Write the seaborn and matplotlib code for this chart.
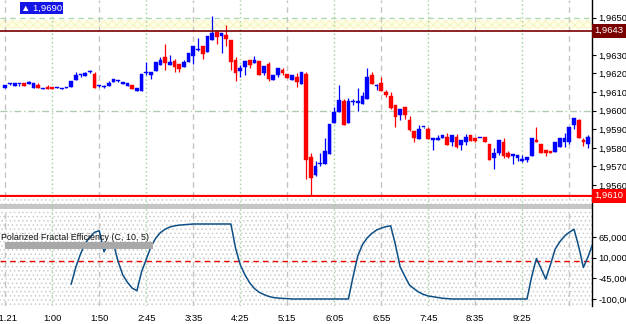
import numpy as np
import pandas as pd
import matplotlib
matplotlib.use("Agg")
import matplotlib.pyplot as plt
from matplotlib.patches import Rectangle
from matplotlib.ticker import FuncFormatter
import seaborn as sns

# ---------------- data ----------------
opens = [1.96123, 1.96143, 1.96134, 1.96143, 1.96148, 1.96146, 1.96123, 1.96138, 1.96118, 1.96127,
         1.96127, 1.96123, 1.96118, 1.96123, 1.96130, 1.96166, 1.96193, 1.96188, 1.96207, 1.96196,
         1.96134, 1.96125, 1.96132, 1.96155, 1.96159, 1.96146, 1.96134, 1.96138, 1.96107, 1.96107,
         1.96204, 1.96193, 1.96214, 1.96245, 1.96288, 1.96246, 1.96266, 1.96250, 1.96234, 1.96261,
         1.96295, 1.96327, 1.96346, 1.96314, 1.96382, 1.96421, 1.96400, 1.96405, 1.96379, 1.96275,
         1.96214, 1.96236, 1.96275, 1.96257, 1.96268, 1.96204, 1.96250, 1.96164, 1.96191, 1.96218,
         1.96196, 1.96164, 1.96182, 1.96146, 1.96196, 1.95752, 1.95654, 1.95711, 1.95714, 1.95768,
         1.95936, 1.95995, 1.96052, 1.95934, 1.96046, 1.96039, 1.96038, 1.96064, 1.96191, 1.96132,
         1.96148, 1.96100, 1.96079, 1.96029, 1.95979, 1.96020, 1.95950, 1.95891, 1.95850, 1.95911,
         1.95902, 1.95841, 1.95843, 1.95855, 1.95859, 1.95829, 1.95859, 1.95816, 1.95829, 1.95870,
         1.95854, 1.95852, 1.95861, 1.95821, 1.95748, 1.95775, 1.95830, 1.95771, 1.95759, 1.95748,
         1.95732, 1.95737, 1.95757, 1.95843, 1.95820, 1.95786, 1.95782, 1.95780, 1.95807, 1.95830,
         1.95829, 1.95923, 1.95950, 1.95843, 1.95820]
highs = [1.96138, 1.96148, 1.96148, 1.96145, 1.96148, 1.96159, 1.96148, 1.96148, 1.96120, 1.96138,
         1.96127, 1.96125, 1.96120, 1.96125, 1.96159, 1.96207, 1.96195, 1.96207, 1.96218, 1.96207,
         1.96139, 1.96138, 1.96159, 1.96168, 1.96163, 1.96148, 1.96148, 1.96138, 1.96121, 1.96196,
         1.96263, 1.96207, 1.96261, 1.96289, 1.96359, 1.96300, 1.96279, 1.96250, 1.96273, 1.96311,
         1.96346, 1.96389, 1.96346, 1.96400, 1.96507, 1.96436, 1.96416, 1.96459, 1.96379, 1.96288,
         1.96245, 1.96268, 1.96275, 1.96293, 1.96268, 1.96239, 1.96263, 1.96191, 1.96227, 1.96227,
         1.96196, 1.96191, 1.96204, 1.96207, 1.96209, 1.95775, 1.95727, 1.95771, 1.95854, 1.95929,
         1.96018, 1.96136, 1.96064, 1.96066, 1.96064, 1.96120, 1.96100, 1.96229, 1.96207, 1.96141,
         1.96180, 1.96111, 1.96100, 1.96029, 1.96009, 1.96020, 1.95971, 1.95891, 1.95923, 1.95912,
         1.95912, 1.95854, 1.95870, 1.95870, 1.95879, 1.95870, 1.95877, 1.95843, 1.95873, 1.95870,
         1.95854, 1.95854, 1.95861, 1.95821, 1.95802, 1.95843, 1.95852, 1.95782, 1.95761, 1.95761,
         1.95761, 1.95752, 1.95855, 1.95912, 1.95820, 1.95786, 1.95782, 1.95830, 1.95855, 1.95879,
         1.95912, 1.95959, 1.95955, 1.95854, 1.95870]
lows = [1.96123, 1.96139, 1.96134, 1.96134, 1.96134, 1.96146, 1.96123, 1.96123, 1.96118, 1.96118,
        1.96118, 1.96123, 1.96118, 1.96123, 1.96127, 1.96166, 1.96182, 1.96188, 1.96202, 1.96123,
        1.96130, 1.96123, 1.96132, 1.96155, 1.96155, 1.96146, 1.96134, 1.96114, 1.96107, 1.96107,
        1.96191, 1.96170, 1.96214, 1.96245, 1.96218, 1.96246, 1.96209, 1.96209, 1.96234, 1.96261,
        1.96252, 1.96323, 1.96277, 1.96314, 1.96379, 1.96357, 1.96311, 1.96346, 1.96221, 1.96161,
        1.96182, 1.96191, 1.96232, 1.96254, 1.96191, 1.96191, 1.96159, 1.96164, 1.96182, 1.96191,
        1.96177, 1.96164, 1.96129, 1.96146, 1.95634, 1.95543, 1.95650, 1.95700, 1.95714, 1.95768,
        1.95936, 1.95995, 1.95925, 1.95934, 1.96032, 1.96000, 1.96038, 1.96064, 1.96145, 1.96113,
        1.96107, 1.96071, 1.96009, 1.95914, 1.95952, 1.95957, 1.95893, 1.95834, 1.95850, 1.95907,
        1.95850, 1.95791, 1.95843, 1.95855, 1.95818, 1.95812, 1.95802, 1.95791, 1.95816, 1.95839,
        1.95834, 1.95852, 1.95830, 1.95737, 1.95686, 1.95761, 1.95743, 1.95746, 1.95716, 1.95732,
        1.95723, 1.95723, 1.95757, 1.95830, 1.95771, 1.95754, 1.95771, 1.95780, 1.95807, 1.95807,
        1.95820, 1.95902, 1.95852, 1.95811, 1.95802]
closes = [1.96138, 1.96145, 1.96148, 1.96145, 1.96134, 1.96148, 1.96148, 1.96123, 1.96120, 1.96118,
          1.96118, 1.96125, 1.96120, 1.96125, 1.96159, 1.96191, 1.96195, 1.96200, 1.96209, 1.96123,
          1.96136, 1.96127, 1.96148, 1.96168, 1.96163, 1.96148, 1.96148, 1.96114, 1.96121, 1.96196,
          1.96207, 1.96207, 1.96261, 1.96275, 1.96257, 1.96261, 1.96236, 1.96223, 1.96261, 1.96311,
          1.96346, 1.96329, 1.96304, 1.96400, 1.96416, 1.96396, 1.96416, 1.96386, 1.96263, 1.96204,
          1.96230, 1.96268, 1.96245, 1.96275, 1.96191, 1.96239, 1.96173, 1.96191, 1.96227, 1.96204,
          1.96177, 1.96191, 1.96154, 1.96207, 1.95736, 1.95639, 1.95705, 1.95712, 1.95784, 1.95929,
          1.95995, 1.96057, 1.95925, 1.96052, 1.96048, 1.96052, 1.96079, 1.96180, 1.96145, 1.96134,
          1.96107, 1.96086, 1.96014, 1.95968, 1.96009, 1.95979, 1.95898, 1.95855, 1.95904, 1.95912,
          1.95850, 1.95854, 1.95855, 1.95870, 1.95818, 1.95870, 1.95807, 1.95843, 1.95861, 1.95839,
          1.95839, 1.95854, 1.95830, 1.95737, 1.95775, 1.95843, 1.95757, 1.95750, 1.95761, 1.95761,
          1.95734, 1.95752, 1.95855, 1.95830, 1.95771, 1.95771, 1.95771, 1.95830, 1.95855, 1.95855,
          1.95912, 1.95959, 1.95852, 1.95830, 1.95861]

pfe_start = 14
pfe_values = [-61, -15, 20, 49, 65, 78, 82, 26, 50, 48,
              0, -36, -56, -71, -78, -27, 6, 40, 62, 77,
              86, 92, 95, 97, 98, 99, 100, 100, 100, 100,
              100, 100, 100, 100, 100, 35, -9, -36, -57, -72,
              -82, -88, -93, -96, -97.5, -98.5, -99, -100, -100, -100,
              -100, -100, -100, -100, -100, -100, -100, -100, -100, -100,
              -40, 15, 45, 63, 75, 84, 89, 93, 95, 45,
              -14, -39, -63, -73, -82, -88, -92, -94, -96, -98,
              -99, -100, -100, -100, -100, -100, -100, -100, -100, -100,
              -100, -100, -100, -100, -100, -100, -100, -100, -40, 8,
              -19, -47, -8, 33, 53, 68, 78, 86, 40, -16,
              13, 48]

time_tick_bars = [0, 10, 20, 30, 40, 50, 60, 70, 80, 90, 100, 110, 120]
time_tick_labels = ["11.21", "1:00", "1:50", "2:45", "3:35", "4:25", "5:15",
                    "6:05", "6:55", "7:45", "8:35", "9:25", ""]
price_ticks = [1.9560, 1.9570, 1.9580, 1.9590, 1.9600, 1.9610, 1.9620, 1.9630, 1.9640, 1.9650]
pfe_ticks = [65, 10, -45, -100]
resistance_level = 1.9643
resistance_label = "1,9643"
support_level = 1.95543
support_label = "1,9610"
high_label = "1,9690"
indicator_title = "Polarized Fractal Efficiency (C, 10, 5)"

# ---------------- style ----------------
sns.set_style("white")
FONT, TS, TT = "Liberation Sans", 6.8, 6.4
plt.rcParams["font.family"] = [FONT, "DejaVu Sans"]
plt.rcParams["hatch.color"] = "#c8c8c8"
plt.rcParams["hatch.linewidth"] = 0.6

W, H = 626, 324
fig = plt.figure(figsize=(W / 100, H / 100), dpi=100, facecolor="white")

def fbox(x0, y0, x1, y1):
    return [x0 / W, 1 - y1 / H, (x1 - x0) / W, (y1 - y0) / H]

ax1 = fig.add_axes(fbox(0, 0, 592, 197))
ax2 = fig.add_axes(fbox(0, 197, 592, 306), sharex=ax1)

df = pd.DataFrame({"bar": np.arange(len(opens)), "open": opens, "high": highs,
                   "low": lows, "close": closes})
df["up"] = df["close"] >= df["open"]
df["color"] = np.where(df["up"], "#0000ff", "#ff0000")
df["body_lo"] = df[["open", "close"]].min(axis=1)
df["body_h"] = (df["close"] - df["open"]).abs().clip(lower=0.00006)

# ---------- main panel ----------
ax1.set_xlim(-1.13, 124.83)
ax1.set_ylim(1.95536, 1.96595)

for i, b in enumerate(time_tick_bars):
    for ax in (ax1, ax2):
        if i % 2 == 0:
            ax.axvline(b, color="#c4c4c4", lw=1.0, ls=(0, (4, 3)), zorder=1)
        else:
            ax.axvline(b, color="#98d498", lw=1.0, ls=(0, (1, 2)), zorder=1)
ax1.axhline(1.9650, color="#b0d8b0", lw=1.0, ls=(0, (4, 3)), zorder=1)
ax1.axhline(1.9600, color="#b0ccb0", lw=1.0, ls=(0, (5, 2, 1, 2)), zorder=1)
ax1.axhspan(1.96438, 1.96485, facecolor="#ffffe6", edgecolor="#f6f2c0", hatch="xxxx",
            lw=0, zorder=0.5)

ax1.vlines(df["bar"], df["low"], df["high"], colors=df["color"], lw=0.9, zorder=3)
ax1.bar(df["bar"], df["body_h"], bottom=df["body_lo"], width=0.78, color=df["color"],
        edgecolor=df["color"], linewidth=0.3, zorder=4)

ax1.axhline(resistance_level, color="#7a0000", lw=1.2, zorder=5)
ax1.axhline(support_level, color="#ff0000", lw=1.6, zorder=5)

def price_fmt(v, p):
    if abs(v - resistance_level) < 0.0005:
        return ""  # hidden under the 1,9643 marker box in the reference
    return f"{v:.4f}".replace(".", ",")

ax1.yaxis.tick_right()
ax1.set_yticks(price_ticks)
ax1.yaxis.set_major_formatter(FuncFormatter(price_fmt))
ax1.tick_params(axis="y", length=3, width=0.8, pad=1.5, labelsize=TS, colors="black")
ax1.tick_params(axis="x", bottom=False, labelbottom=False)
for s in ("left", "top", "bottom"):
    ax1.spines[s].set_visible(False)
ax1.spines["right"].set_color("black")
ax1.spines["right"].set_linewidth(1.0)

def level_box(level, text, color):
    ypix = ax1.transData.transform((0, level))[1]
    fig.patches.append(Rectangle((592 / W, (ypix - 7) / H), 34 / W, 14 / H,
                                 transform=fig.transFigure, facecolor=color,
                                 edgecolor="none", zorder=20))
    fig.text(594 / W, ypix / H, text, ha="left", va="center", fontsize=TS,
             color="white", zorder=21)

level_box(resistance_level, resistance_label, "#7a0000")
level_box(support_level, support_label, "#ff0000")

fig.text(21 / W, 1 - 8 / H, "\u25b2 " + high_label, ha="left", va="center", fontsize=TS,
         color="white", bbox=dict(boxstyle="square,pad=0.12", fc="#1414e6", ec="none"))

# ---------- indicator panel ----------
ax2.set_ylim(-118.7, 172)
ax2.add_patch(Rectangle((0, 0), 1, 1, transform=ax2.transAxes, facecolor="white",
                        edgecolor="#cccccc", hatch="....", lw=0, zorder=0))
ax2.axhspan(139, 152, color="#c6c6c6", lw=0, zorder=0.6)
ax2.axhline(0, color="#ee0000", lw=1.0, ls=(0, (4, 3)), zorder=2)

pfe_df = pd.DataFrame({"bar": np.arange(pfe_start, pfe_start + len(pfe_values)),
                       "pfe": pfe_values})
sns.lineplot(data=pfe_df, x="bar", y="pfe", ax=ax2, color="#0d4f85", lw=1.1, zorder=4)

ax2.add_patch(Rectangle((5 / 592, 0.52), 148 / 592, 0.07, transform=ax2.transAxes,
                        facecolor="#a8a8a8", lw=0, zorder=5))
ax2.text(1 / 592, 0.63, indicator_title, transform=ax2.transAxes, ha="left", va="center",
         fontsize=TT, color="#101010", zorder=6)

ax2.yaxis.tick_right()
ax2.set_yticks(pfe_ticks)
ax2.yaxis.set_major_formatter(FuncFormatter(lambda v, p: f"{v:.4f}".replace(".", ",")))
ax2.tick_params(axis="y", length=3, width=0.8, pad=1.5, labelsize=TS, colors="black")
ax2.set_xticks(time_tick_bars)
ax2.set_xticklabels(time_tick_labels)
ax2.tick_params(axis="x", length=4, width=0.8, pad=2, labelsize=TS, colors="black")
ax2.set_xlabel("")
ax2.set_ylabel("")
for s in ("left", "top", "bottom"):
    ax2.spines[s].set_visible(False)
ax2.spines["right"].set_color("black")
ax2.spines["right"].set_linewidth(1.0)
ax2.set_xlim(-1.13, 124.83)

fig.savefig("out.png", dpi=100, facecolor="white")
